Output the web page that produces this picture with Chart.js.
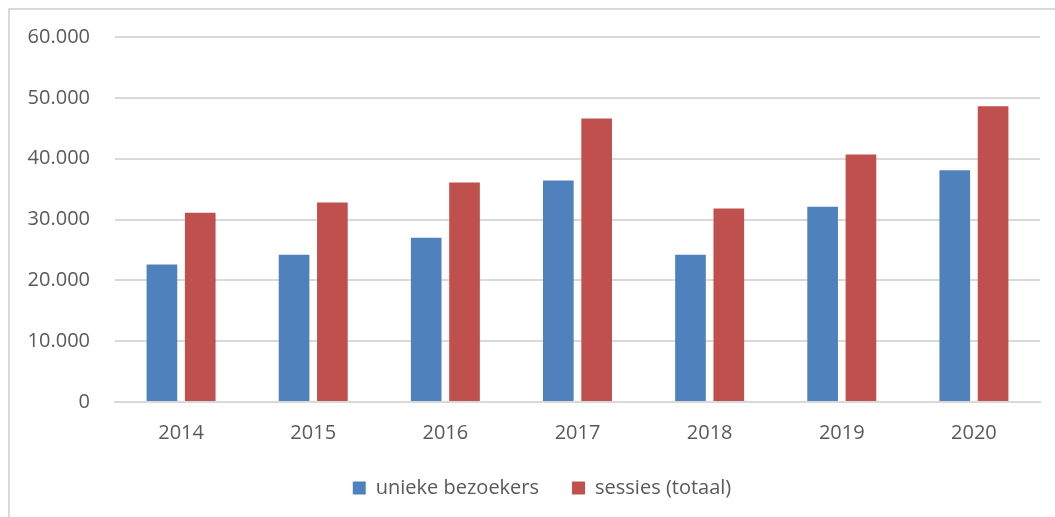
<!DOCTYPE html>
<html>
<head>
<meta charset="utf-8">
<script src="https://cdn.jsdelivr.net/npm/chart.js@4/dist/chart.umd.min.js"></script>
<style>
  html, body { margin: 0; padding: 0; background: #fff; overflow: hidden; }
  #wrap { position: relative; width: 1055px; height: 517px; }
  #frame { position: absolute; left: 8px; top: 8px; width: 1100px; height: 600px;
           border-top: 2px solid #d9d9d9; border-left: 2px solid #d9d9d9; box-sizing: border-box; }
  canvas { position: absolute; left: 0; top: 0; }
</style>
</head>
<body>
<div id="wrap">
  <div id="frame"></div>
  <canvas id="chart" width="1055" height="517"></canvas>
</div>
<script>
'use strict';

// ── Data ─────────────────────────────────────────────────────────
const years     = ['2014', '2015', '2016', '2017', '2018', '2019', '2020'];
const uniek     = [22600, 24200, 27000, 36400, 24200, 32100, 38100];
const sessies   = [31100, 32800, 36100, 46600, 31800, 40700, 48600];
const yTicks    = [0, 10000, 20000, 30000, 40000, 50000, 60000];

// ── Colors ───────────────────────────────────────────────────────
const C = {
  blue: '#4F81BD', red: '#C0504D',
  grid: '#d9d9d9', text: '#595959'
};

Chart.defaults.font.family = "'Open Sans', sans-serif";
Chart.defaults.font.size   = 20;
Chart.defaults.color       = C.text;

const fmtNL = n => n === 0 ? '0' : n.toLocaleString('de-DE');

// legend in the reference sits a bit right of the canvas center
const legendShift = {
  id: 'legendShift',
  afterLayout(chart) { if (chart.legend) chart.legend.left += 44; }
};

new Chart(document.getElementById('chart'), {
  type: 'bar',
  data: {
    labels: years,
    datasets: [
      { label: 'unieke bezoekers', data: uniek,   backgroundColor: C.blue,
        categoryPercentage: 0.58, barPercentage: 0.8 },
      { label: 'sessies (totaal)', data: sessies, backgroundColor: C.red,
        categoryPercentage: 0.58, barPercentage: 0.8 }
    ]
  },
  options: {
    responsive: false,
    animation: false,
    layout: { padding: { left: 0, right: 15, top: 37, bottom: 9 } },
    plugins: {
      tooltip: { enabled: false },
      legend: {
        position: 'bottom',
        labels: { boxWidth: 13, boxHeight: 13, padding: 33, color: C.text,
                  font: { size: 20 } }
      }
    },
    scales: {
      x: {
        grid: { display: false },
        border: { display: true, color: C.grid, width: 2 },
        ticks: { padding: 11, color: C.text },
        afterFit: s => { s.height = 43; }
      },
      y: {
        min: 0, max: 60000,
        afterBuildTicks: s => { s.ticks = yTicks.map(v => ({ value: v })); },
        grid: { color: C.grid, lineWidth: 2, drawTicks: false },
        border: { display: false },
        ticks: { padding: 25, color: C.text, callback: v => fmtNL(v) },
        afterFit: s => { s.width = 115; }
      }
    }
  },
  plugins: [legendShift]
});
</script>
</body>
</html>
